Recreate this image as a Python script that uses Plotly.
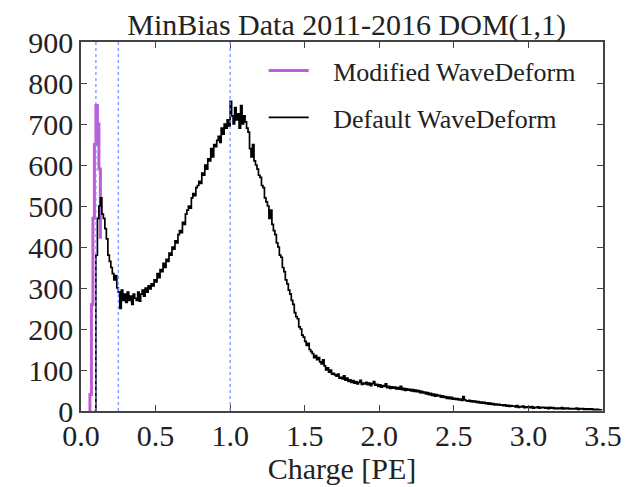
import numpy as np
import plotly.graph_objects as go

# bin width 0.01 PE, default WaveDeform starts at 0.09
default_start = 0.09
default_counts = [
    0,
    380, 470, 500, 520, 480, 470, 445, 420, 380, 365,
    350, 335, 320, 330, 300, 290, 250, 295, 270, 285,
    265, 290, 270, 280, 260, 285, 275, 270, 290, 268,
    285, 295, 280, 300, 290, 305, 298, 310, 305, 320,
    315, 335, 325, 345, 340, 360, 350, 370, 365, 385,
    380, 400, 395, 415, 410, 430, 440, 435, 460, 455,
    480, 490, 500, 495, 520, 530, 525, 545, 550, 560,
    555, 580, 575, 600, 590, 615, 610, 640, 620, 650,
    645, 660, 670, 655, 690, 675, 700, 690, 710, 695,
    755, 720, 700, 740, 710, 725, 690, 745, 700, 720,
    705, 690, 680, 640, 620, 650, 610, 600, 590, 575,
    570, 550, 545, 520, 510, 500, 470, 490, 455, 440,
    430, 410, 400, 380, 375, 350, 340, 320, 310, 295,
    285, 270, 260, 240, 230, 225, 205, 200, 185, 180,
    170, 160, 165, 150, 145, 140, 130, 135, 125, 130,
    120, 115, 125, 110, 100, 105, 95, 100, 90, 92,
    88, 85, 90, 80, 82, 78, 86, 75, 80, 72,
    76, 70, 74, 68, 72, 66, 70, 75, 65, 68,
    66, 70, 64, 68, 62, 67, 72, 63, 65, 60,
    64, 58, 62, 60, 66, 57, 60, 55, 59, 56,
    58, 54, 57, 53, 60, 52, 55, 50, 54, 51,
    53, 49, 52, 48, 51, 47, 50, 45, 48, 44,
    46, 42, 45, 40, 43, 38, 41, 36, 40, 37,
    38, 34, 37, 33, 35, 31, 34, 30, 33, 29,
    31, 28, 30, 27, 29, 26, 35, 27, 25, 24,
    26, 23, 25, 22, 24, 21, 23, 20, 22, 19,
    21, 18, 20, 17, 19, 16, 18, 15, 17, 15,
    16, 14, 15, 13, 15, 12, 14, 11, 13, 12,
    12, 10, 13, 9, 11, 10, 12, 8, 10, 9,
    10, 8, 11, 7, 9, 8, 10, 7, 9, 8,
    9, 7, 8, 6, 9, 7, 8, 6, 7, 6,
    7, 6, 8, 5, 7, 6, 7, 5, 6, 5,
    6, 5, 7, 4, 6, 5, 6, 4, 5, 4,
    5, 4, 5, 3, 4, 3, 4, 3, 3, 2,
]

modified_start = 0.05
modified_counts = [0, 40, 260, 470, 650, 745, 700, 590, 420]

marker_lines = [0.1, 0.25, 1.0]

bin_w = 0.01
x_def = default_start + bin_w * np.arange(len(default_counts))
x_mod = modified_start + bin_w * np.arange(len(modified_counts))

serif = "Liberation Serif"
ink = '#222'
pad = '\u00a0\u00a0\u00a0'

fig = go.Figure()
fig.add_trace(go.Scatter(
    x=x_mod, y=modified_counts, mode='lines', line_shape='hv',
    line=dict(color='#bf5cd6', width=3),
    name=pad + 'Modified WaveDeform', legendgroup='a',
))
fig.add_trace(go.Scatter(
    x=x_def, y=default_counts, mode='lines', line_shape='hv',
    line=dict(color='black', width=1.7),
    name=pad + 'Default WaveDeform', legendgroup='b',
))

for xv in marker_lines:
    fig.add_vline(x=xv, line=dict(color='rgb(120,140,255)', width=1.2, dash='dot'))

axis_style = dict(
    showline=True, mirror='ticks', linecolor='#444', linewidth=1.5,
    ticks='inside', ticklen=6, tickcolor='#444', showgrid=False, zeroline=False,
    automargin=False,
    tickfont=dict(family=serif, size=30, color=ink),
)

# page body adds an 8px offset, so the figure is a bit smaller than the window
fig.update_layout(
    width=633, height=479,
    paper_bgcolor='white', plot_bgcolor='white',
    margin=dict(l=73, r=38, t=34, b=76),
    title=dict(text='MinBias Data 2011-2016 DOM(1,1)', x=0.535, xanchor='center',
               y=1 - 16 / 479, yanchor='middle',
               font=dict(family=serif, size=30, color=ink)),
    xaxis=dict(range=[0, 3.5], dtick=0.5, tickformat='.1f', ticklabelstandoff=-3,
               title=dict(text='Charge [PE]', standoff=2,
                          font=dict(family=serif, size=30, color=ink)),
               **axis_style),
    yaxis=dict(range=[0, 900], dtick=100, **axis_style),
    legend=dict(x=0.35, xanchor='left', y=0.986, yanchor='top', itemwidth=40,
                bgcolor='rgba(0,0,0,0)', tracegroupgap=10,
                font=dict(family=serif, size=26, color=ink)),
    showlegend=True,
)

fig.write_html("out.html")
